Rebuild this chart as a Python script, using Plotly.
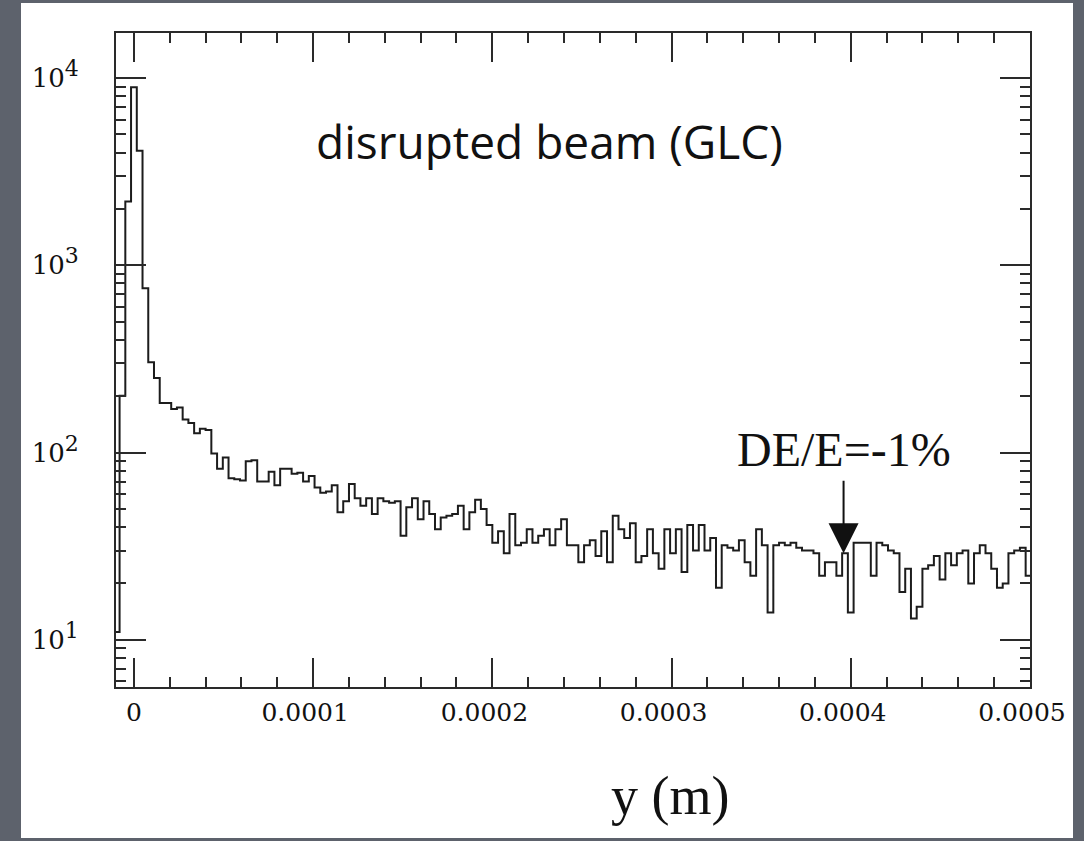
import numpy as np
import plotly.graph_objects as go

# ---------------- data ----------------
bin_width = 3.2e-6                      # histogram bin width (m)
bin_index = list(range(-3, 157))        # bin k is centred at k * bin_width
counts = [
    11, 201, 2190, 8930, 4090, 755, 304, 250, 184, 184,          # k=-3..6
    171, 174, 150, 144, 127, 134, 132, 99, 82, 94,               # 7..16
    73, 72, 71, 90, 91, 70, 70, 79, 67, 82,                      # 17..26
    82, 77, 78, 70, 75, 65, 61, 62, 67, 48,                      # 27..36
    55, 68, 57, 52, 57, 47, 57, 55, 54, 55,                      # 37..46
    36, 51, 57, 44, 55, 47, 39, 45, 46, 47,                      # 47..56
    52, 39, 48, 56, 50, 41, 33, 38, 29, 47,                      # 57..66
    32, 33, 39, 33, 36, 39, 32, 39, 44, 32,                      # 67..76
    32, 26, 32, 34, 28, 38, 26, 46, 39, 35,                      # 77..86
    42, 26, 28, 39, 29, 24, 39, 29, 39, 23,                      # 87..96
    41, 30, 41, 30, 35, 19, 32, 31, 30, 34,                      # 97..106
    26, 22, 39, 32, 14, 32, 33, 32, 33, 31,                      # 107..116
    30, 30, 29, 22, 26, 26, 22, 29, 14, 33,                      # 117..126
    33, 33, 22, 33, 32, 30, 29, 18, 24, 13,                      # 127..136
    15, 24, 25, 28, 21, 29, 25, 29, 30, 20,                      # 137..146
    29, 32, 29, 24, 19, 20, 29, 30, 31, 22,                      # 147..156
]

x_range = [-1e-5, 5.0003e-4]
x_tick_vals = [0, 1e-4, 2e-4, 3e-4, 4e-4, 5e-4]
x_tick_text = ["0", "0.0001", "0.0002", "0.0003", "0.0004", "0.0005"]
y_range_counts = [5.6, 17400]
y_tick_vals = [10, 100, 1000, 10000]
y_tick_exponents = ["1", "2", "3", "4"]

title_text = "disrupted beam (GLC)"
marker_text = "DE/E=-1%"
marker_x = 3.96e-4
marker_count = 29
xlabel_text = "y (m)"

# ---------------- build ----------------
centers = np.array(bin_index) * bin_width
edges = np.append(centers - bin_width / 2, centers[-1] + bin_width / 2)
step_y = counts + [counts[-1]]

W, H = 1084, 841
L, R, T, B = 116, 54, 33, 154
pw, ph = W - L - R, H - T - B


def px_to_paper_x(px):
    return (px - L) / pw


def px_to_paper_y(py):
    return (H - B - py) / ph


fig = go.Figure()
fig.add_trace(go.Scatter(
    x=edges, y=step_y, mode="lines",
    line=dict(shape="hv", color="#1c1c1c", width=2),
    hoverinfo="skip", showlegend=False,
))

axis_col = "#2a2a2a"
x_labels_padded = [t if t == "0" else t + "\u00a0\u00a0" for t in x_tick_text]
y_labels = ["10<sup><span style='font-size:22px'>%s</span></sup>" % e for e in y_tick_exponents]

fig.update_xaxes(
    range=x_range, showgrid=False, zeroline=False, automargin=False,
    showline=True, linecolor=axis_col, linewidth=2, mirror="ticks",
    tickmode="array", tickvals=x_tick_vals, ticktext=x_labels_padded,
    ticks="inside", ticklen=29, tickwidth=2, tickcolor=axis_col,
    minor=dict(ticks="inside", ticklen=10, tickwidth=2, tickcolor=axis_col,
               tickmode="linear", tick0=0, dtick=2e-5, showgrid=False),
    tickfont=dict(family="DejaVu Serif", size=25, color="#111"),
    ticklabelstandoff=2, ticklabeloverflow="allow",
)
fig.update_yaxes(
    type="log", range=[np.log10(y_range_counts[0]), np.log10(y_range_counts[1])],
    showgrid=False, zeroline=False, automargin=False,
    showline=True, linecolor=axis_col, linewidth=2, mirror="ticks",
    tickmode="array", tickvals=y_tick_vals, ticktext=y_labels,
    ticks="inside", ticklen=30, tickwidth=2, tickcolor=axis_col,
    minor=dict(ticks="inside", ticklen=10, tickwidth=2, tickcolor=axis_col,
               dtick="D1", showgrid=False),
    tickfont=dict(family="DejaVu Serif", size=26, color="#111"),
    ticklabelstandoff=30, ticklabeloverflow="allow",
)

# white slide panel
fig.add_shape(type="rect", xref="paper", yref="paper",
              x0=px_to_paper_x(21), x1=px_to_paper_x(1073),
              y0=px_to_paper_y(838), y1=px_to_paper_y(3),
              fillcolor="white", line=dict(width=0), layer="below")

fig.add_annotation(text=title_text, xref="paper", yref="paper",
                   x=px_to_paper_x(549), y=px_to_paper_y(141),
                   xanchor="center", yanchor="middle", showarrow=False,
                   font=dict(family="Open Sans", size=46, color="#111"))
fig.add_annotation(text=marker_text, xref="x", yref="y",
                   x=marker_x, y=2.014,
                   xanchor="center", yanchor="middle", showarrow=False,
                   font=dict(family="Liberation Serif", size=48, color="#111"))
fig.add_annotation(text="", xref="x", yref="y",
                   x=marker_x, y=np.log10(marker_count),
                   ax=0, ay=-74, showarrow=True,
                   arrowhead=2, arrowsize=3.0, arrowwidth=2, arrowcolor="#111")
fig.add_annotation(text=xlabel_text, xref="paper", yref="paper",
                   x=px_to_paper_x(670), y=px_to_paper_y(796),
                   xanchor="center", yanchor="middle", showarrow=False,
                   font=dict(family="Liberation Serif", size=54, color="#111"))

fig.update_layout(
    width=W, height=H, autosize=False,
    margin=dict(l=L, r=R, t=T, b=B),
    paper_bgcolor="#5d626c", plot_bgcolor="white",
    showlegend=False,
)

fig.write_html("out.html", config={"responsive": False})
